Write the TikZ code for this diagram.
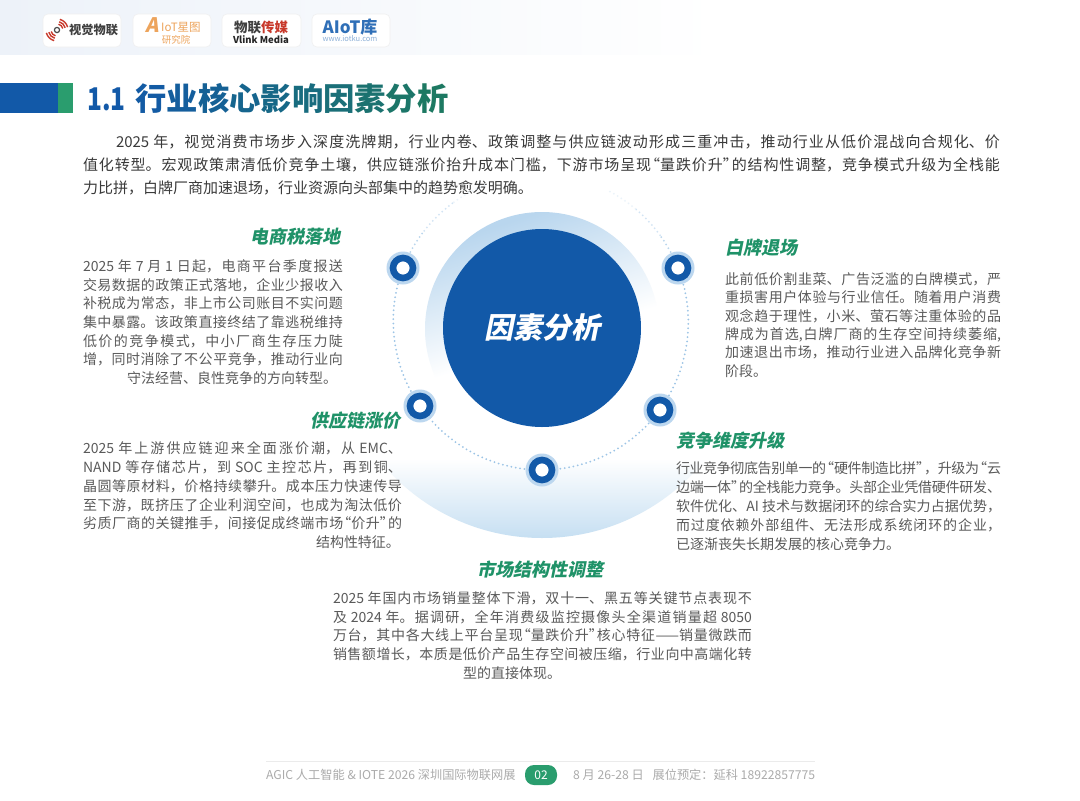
\documentclass[tikz,border=0pt]{standalone}
\usepackage{graphicx}
\usepackage{fontspec}
\setmainfont{Noto Sans CJK SC}
\newfontfamily\slantf[FakeSlant=0.2]{Noto Sans CJK SC}
\XeTeXlinebreaklocale "zh"
\XeTeXlinebreakskip=0pt plus 3pt minus 1.2pt
\tolerance=10000
\hbadness=10000
\hfuzz=20pt
\definecolor{mainblue}{HTML}{1259A8}
\definecolor{maingreen}{HTML}{2A9D6E}
\definecolor{titlegreen}{HTML}{1E7B5E}
\definecolor{headgreen}{HTML}{1F9268}
\definecolor{bodygray}{HTML}{5A5A5A}
\definecolor{introgray}{HTML}{3A3A3A}
\definecolor{footgray}{HTML}{ABABAB}
\definecolor{haloblue}{HTML}{BCD7EF}
\definecolor{ringlight}{HTML}{B9D6EE}
\definecolor{bowllight}{HTML}{C6DFF2}
\definecolor{dotblue}{HTML}{9CC4E6}
\definecolor{logoorange}{HTML}{EDA45C}
\definecolor{logored}{HTML}{C8392B}
\definecolor{logoblue}{HTML}{2F6FB7}
\definecolor{bandblue}{HTML}{EDF2F9}
\pgfdeclareverticalshading{ringup}{100bp}{color(0bp)=(white);color(47bp)=(white);color(74bp)=(ringlight);color(100bp)=(ringlight)}
\pgfdeclareverticalshading{bowl}{100bp}{color(0bp)=(bowllight);color(25bp)=(bowllight);color(34.5bp)=(white);color(100bp)=(white)}
\newcommand{\tc}[2]{\textcolor{mainblue!#1!titlegreen}{#2}}
\newcommand{\qo}{\hspace{-6pt}“}
\newcommand{\qc}{”\hspace{-6pt}}
\tikzset{
  x=1pt,y=-1pt,
  dotarc/.style={line width=2pt,line cap=round,dash pattern=on 0pt off 4.4pt,color=#1},
  dotarc/.default=dotblue,
  halo/.style={circle,fill=haloblue,minimum size=33pt,inner sep=0pt},
  hubdot/.style={circle,draw=mainblue,line width=6.6pt,fill=white,minimum size=20pt,inner sep=0pt},
  logobox/.style={rounded corners=5pt,fill=white,draw=black!6,line width=0.6pt},
  block/.style={anchor=north west,inner sep=0pt,outer sep=0pt,align=none,font=\fontsize{14}{18.7}\selectfont,text=bodygray},
  heading/.style={inner sep=0pt,text=headgreen,font=\fontsize{18}{20}\selectfont\slantf\bfseries},
  foot/.style={inner sep=0pt,text=footgray,font=\fontsize{12.2}{14}\selectfont},
  logoarc/.style={logored,line width=1.4pt},
}
\begin{document}
\begin{tikzpicture}
\useasboundingbox (0,0) rectangle (1080,801);
\fill[white] (0,0) rectangle (1080,801);
% header band
\shade[left color=bandblue,right color=white] (0,0) rectangle (720,54);
% central figure background
\shade[shading=bowl] (542,329) circle (209);
\shade[shading=ringup,shading angle=18] (542,329) circle (117);
% logos
\fill[logobox] (43,14) rectangle (121,47);
\fill[logobox] (133,14) rectangle (211,47);
\fill[logobox] (222,14) rectangle (301,47);
\fill[logobox] (312,14) rectangle (390,47);
\coordinate (ic) at (57,30);
\foreach \r in {6,8.5,11}{
  \draw[logoarc] (ic) ++(-75:\r) arc (-75:-15:\r);
  \draw[logoarc] (ic) ++(105:\r) arc (105:165:\r);
}
\draw[black!70,line width=1.2pt] (ic) circle (2.6);
\node[inner sep=0,anchor=west,font=\fontsize{12.2}{12}\selectfont\bfseries,text=black!75] (logoa) at (69,30) {视觉物联};
\node[inner sep=0,font=\fontsize{20}{20}\selectfont\slantf\bfseries,text=logoorange] (logob) at (152,25) {A};
\node[inner sep=0,anchor=west,font=\fontsize{11.5}{12}\selectfont,text=logoorange] (logoc) at (161,27) {IoT星图};
\node[inner sep=0,font=\fontsize{9.5}{10}\selectfont,text=logoorange] (logod) at (176,40) {研究院};
\node[inner sep=0,font=\fontsize{13.5}{14}\selectfont\bfseries,text=black!75] (logoe) at (261,27) {物联\textcolor{logored}{传媒}};
\node[inner sep=0,font=\fontsize{9.5}{8}\selectfont\bfseries,text=black!85] (logof) at (261,40) {Vlink Media};
\node[inner sep=0,font=\fontsize{17}{15}\selectfont\bfseries,text=logoblue] (logog) at (350,27) {AIoT库};
\node[inner sep=0,font=\fontsize{7.5}{7}\selectfont,text=logoblue!55] (logoh) at (350,39) {www.iotku.com};
% title bar
\fill[mainblue] (0,83) rectangle (58,113);
\fill[maingreen] (58,83) rectangle (73,113);
\node[anchor=west,inner sep=0pt,font=\fontsize{31.3}{34}\selectfont\bfseries] (title) at (87,98) {\tc{100}{\scalebox{0.78}[1]{1.1}}\hspace{10pt}\tc{95}{行}\tc{85}{业}\tc{75}{核}\tc{65}{心}\tc{55}{影}\tc{45}{响}\tc{35}{因}\tc{25}{素}\tc{15}{分}\tc{5}{析}};
% intro
\node[block,text width=917pt,text=introgray,font=\fontsize{15}{23}\selectfont] (intro) at (83,135) {\hspace*{33pt}2025 年，视觉消费市场步入深度洗牌期，行业内卷、政策调整与供应链波动形成三重冲击，推动行业从低价混战向合规化、价\linebreak
值化转型。宏观政策肃清低价竞争土壤，供应链涨价抬升成本门槛，下游市场呈现\qo 量跌价升\qc 的结构性调整，竞争模式升级为全栈能\linebreak
力比拼，白牌厂商加速退场，行业资源向头部集中的趋势愈发明确。};
% central figure
\coordinate (ptul) at (403,268);
\coordinate (ptur) at (678,268);
\coordinate (ptll) at (420,406);
\coordinate (ptlr) at (660,410);
\coordinate (ptb) at (542,470);
\draw[dotarc] (ptur) arc (-21.5:36.5:148);
\draw[dotarc] (ptlr) arc (36.5:90:148);
\draw[dotarc] (ptb) arc (90:145:148);
\draw[dotarc] (ptll) arc (145:201.4:148);
\draw[dotarc=dotblue!70] (ptul) arc (201.4:218:148) coordinate (ula);
\draw[dotarc=dotblue!45] (ula) arc (218:234:148) coordinate (ulb);
\draw[dotarc=dotblue!20] (ulb) arc (234:248:148);
\draw[dotarc=dotblue!70] (ptur) arc (-21.5:-36:148) coordinate (ura);
\draw[dotarc=dotblue!45] (ura) arc (-36:-50:148) coordinate (urb);
\draw[dotarc=dotblue!20] (urb) arc (-50:-62:148);
\node[circle,fill=mainblue,minimum size=198pt,inner sep=0pt,text=white,font=\fontsize{29}{32}\selectfont\slantf\bfseries] (hub) at (542,328) {因素分析};
\foreach \p/\n in {ptul/a,ptur/b,ptll/c,ptlr/d,ptb/e}{
  \node[halo] (halo\n) at (\p) {};
  \node[hubdot] (dot\n) at (\p) {};
}
% headings
\node[heading,anchor=east] (h1) at (341,237) {电商税落地};
\node[heading,anchor=east] (h2) at (401,421) {供应链涨价};
\node[heading,anchor=west] (h3) at (725,248) {白牌退场};
\node[heading,anchor=west] (h4) at (676,441) {竞争维度升级};
\node[heading,anchor=west] (h5) at (477,570) {市场结构性调整};
% blocks
\node[block,text width=260pt] (b1) at (83,259.5) {2025 年 7 月 1 日起，电商平台季度报送\linebreak
交易数据的政策正式落地，企业少报收入\linebreak
补税成为常态，非上市公司账目不实问题\linebreak
集中暴露。该政策直接终结了靠逃税维持\linebreak
低价的竞争模式，中小厂商生存压力陡\linebreak
增，同时消除了不公平竞争，推动行业向\linebreak
\hspace*{44pt}守法经营、良性竞争的方向转型。};
\node[block,text width=319pt] (b2) at (83,442) {2025 年上游供应链迎来全面涨价潮，从 EMC、\linebreak
NAND 等存储芯片，到 SOC 主控芯片，再到铜、\linebreak
晶圆等原材料，价格持续攀升。成本压力快速传导\linebreak
至下游，既挤压了企业利润空间，也成为淘汰低价\linebreak
劣质厂商的关键推手，间接促成终端市场\qo 价升\qc 的\linebreak
\hspace*{233pt}结构性特征。};
\node[block,text width=276pt,font=\fontsize{14}{18.4}\selectfont] (b3) at (725,272.5) {此前低价割韭菜、广告泛滥的白牌模式，严\linebreak
重损害用户体验与行业信任。随着用户消费\linebreak
观念趋于理性，小米、萤石等注重体验的品\linebreak
牌成为首选,白牌厂商的生存空间持续萎缩,\linebreak
加速退出市场，推动行业进入品牌化竞争新\linebreak
阶段。};
\node[block,text width=325pt,font=\fontsize{14}{18.8}\selectfont] (b4) at (676,462) {行业竞争彻底告别单一的\qo 硬件制造比拼\qc ，升级为\qo 云\linebreak
边端一体\qc 的全栈能力竞争。头部企业凭借硬件研发、\linebreak
软件优化、AI 技术与数据闭环的综合实力占据优势，\linebreak
而过度依赖外部组件、无法形成系统闭环的企业，\linebreak
已逐渐丧失长期发展的核心竞争力。};
\node[block,text width=419pt] (b5) at (333,591.5) {2025 年国内市场销量整体下滑，双十一、黑五等关键节点表现不\linebreak
及 2024 年。据调研，全年消费级监控摄像头全渠道销量超 8050\linebreak
万台，其中各大线上平台呈现\qo 量跌价升\qc 核心特征——销量微跌而\linebreak
销售额增长，本质是低价产品生存空间被压缩，行业向中高端化转\linebreak
\hspace*{130pt}型的直接体现。};
% footer
\draw[black!8,line width=0.7pt] (266,761) coordinate (fa) -- (815,761) coordinate (fb);
\node[foot,anchor=west] (f1) at (266,775) {AGIC 人工智能 \& IOTE 2026 深圳国际物联网展};
\node[rounded corners=9pt,fill=maingreen,text=white,minimum width=32pt,minimum height=20pt,inner sep=0pt,font=\fontsize{12}{14}\selectfont] (pill) at (541,775) {02};
\node[foot,anchor=west] (f2) at (573,775) {8 月 26-28 日 \hspace{6pt}展位预定：延科 18922857775};
\end{tikzpicture}
\end{document}
